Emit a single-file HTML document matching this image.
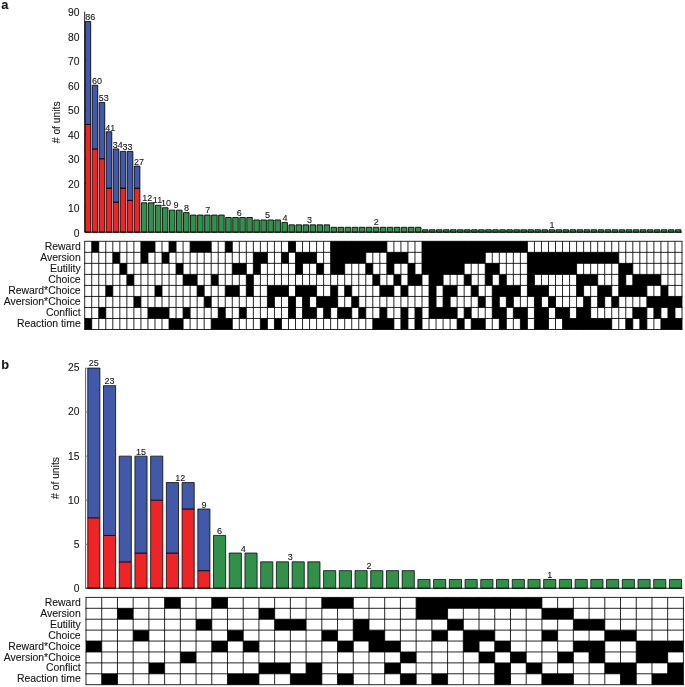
<!DOCTYPE html>
<html><head><meta charset="utf-8"><title>figure</title>
<style>html,body{margin:0;padding:0;background:#fff}svg{display:block}text{font-family:'Liberation Sans', Arial, sans-serif;fill:#161616;stroke:#161616;stroke-width:0.1px}</style>
</head><body>
<svg width="685" height="687" viewBox="0 0 685 687">
<rect width="685" height="687" fill="#fff"/>
<path d="M85.15 232.2V124.44H90.7V232.2ZM92.18 232.2V148.93H97.73V232.2ZM99.2 232.2V158.73H104.75V232.2ZM106.23 232.2V188.12H111.78V232.2ZM113.26 232.2V202.08H118.81V232.2ZM120.29 232.2V188.12H125.84V232.2ZM127.31 232.2V200.36H132.86V232.2ZM134.34 232.2V188.12H139.89V232.2Z" fill="#EE2427" stroke="#000" stroke-width="0.85"/>
<path d="M85.15 124.44V21.59H90.7V124.44ZM92.18 148.93V85.26H97.73V148.93ZM99.2 158.73V102.4H104.75V158.73ZM106.23 188.12V131.79H111.78V188.12ZM113.26 202.08V148.93H118.81V202.08ZM120.29 188.12V151.38H125.84V188.12ZM127.31 200.36V151.38H132.86V200.36ZM134.34 188.12V166.08H139.89V188.12Z" fill="#4259A9" stroke="#000" stroke-width="0.85"/>
<path d="M141.37 232.2V202.81H146.92V232.2ZM148.39 232.2V202.81H153.94V232.2ZM155.42 232.2V205.26H160.97V232.2ZM162.45 232.2V207.71H168V232.2ZM169.47 232.2V210.16H175.02V232.2ZM176.5 232.2V210.16H182.05V232.2ZM183.53 232.2V212.61H189.08V232.2ZM190.56 232.2V215.06H196.11V232.2ZM197.58 232.2V215.06H203.13V232.2ZM204.61 232.2V215.06H210.16V232.2ZM211.64 232.2V215.06H217.19V232.2ZM218.66 232.2V215.06H224.21V232.2ZM225.69 232.2V217.51H231.24V232.2ZM232.72 232.2V217.51H238.27V232.2ZM239.75 232.2V217.51H245.3V232.2ZM246.77 232.2V217.51H252.32V232.2ZM253.8 232.2V219.95H259.35V232.2ZM260.83 232.2V219.95H266.38V232.2ZM267.85 232.2V219.95H273.4V232.2ZM274.88 232.2V219.95H280.43V232.2ZM281.91 232.2V222.4H287.46V232.2ZM288.93 232.2V224.85H294.48V232.2ZM295.96 232.2V224.85H301.51V232.2ZM302.99 232.2V224.85H308.54V232.2ZM310.02 232.2V224.85H315.57V232.2ZM317.04 232.2V224.85H322.59V232.2ZM324.07 232.2V224.85H329.62V232.2ZM331.1 232.2V227.3H336.65V232.2ZM338.12 232.2V227.3H343.67V232.2ZM345.15 232.2V227.3H350.7V232.2ZM352.18 232.2V227.3H357.73V232.2ZM359.21 232.2V227.3H364.76V232.2ZM366.23 232.2V227.3H371.78V232.2ZM373.26 232.2V227.3H378.81V232.2ZM380.29 232.2V227.3H385.84V232.2ZM387.31 232.2V227.3H392.86V232.2ZM394.34 232.2V227.3H399.89V232.2ZM401.37 232.2V227.3H406.92V232.2ZM408.39 232.2V227.3H413.94V232.2ZM415.42 232.2V227.3H420.97V232.2ZM422.45 232.2V229.75H428V232.2ZM429.48 232.2V229.75H435.03V232.2ZM436.5 232.2V229.75H442.05V232.2ZM443.53 232.2V229.75H449.08V232.2ZM450.56 232.2V229.75H456.11V232.2ZM457.58 232.2V229.75H463.13V232.2ZM464.61 232.2V229.75H470.16V232.2ZM471.64 232.2V229.75H477.19V232.2ZM478.67 232.2V229.75H484.22V232.2ZM485.69 232.2V229.75H491.24V232.2ZM492.72 232.2V229.75H498.27V232.2ZM499.75 232.2V229.75H505.3V232.2ZM506.77 232.2V229.75H512.32V232.2ZM513.8 232.2V229.75H519.35V232.2ZM520.83 232.2V229.75H526.38V232.2ZM527.85 232.2V229.75H533.4V232.2ZM534.88 232.2V229.75H540.43V232.2ZM541.91 232.2V229.75H547.46V232.2ZM548.94 232.2V229.75H554.49V232.2ZM555.96 232.2V229.75H561.51V232.2ZM562.99 232.2V229.75H568.54V232.2ZM570.02 232.2V229.75H575.57V232.2ZM577.04 232.2V229.75H582.59V232.2ZM584.07 232.2V229.75H589.62V232.2ZM591.1 232.2V229.75H596.65V232.2ZM598.13 232.2V229.75H603.68V232.2ZM605.15 232.2V229.75H610.7V232.2ZM612.18 232.2V229.75H617.73V232.2ZM619.21 232.2V229.75H624.76V232.2ZM626.23 232.2V229.75H631.78V232.2ZM633.26 232.2V229.75H638.81V232.2ZM640.29 232.2V229.75H645.84V232.2ZM647.31 232.2V229.75H652.86V232.2ZM654.34 232.2V229.75H659.89V232.2ZM661.37 232.2V229.75H666.92V232.2ZM668.4 232.2V229.75H673.95V232.2ZM675.42 232.2V229.75H680.97V232.2Z" fill="#33904A" stroke="#000" stroke-width="0.85"/>
<path d="M84.7 11.6V232.2H682" stroke="#000" stroke-width="0.9" fill="none"/>
<path d="M84.7 232.2h1.2" stroke="#000" stroke-width="0.5"/>
<text x="79.4" y="236.9" font-size="10.3" text-anchor="end">0</text>
<path d="M84.7 207.71h1.2" stroke="#000" stroke-width="0.5"/>
<text x="79.4" y="212.38" font-size="10.3" text-anchor="end">10</text>
<path d="M84.7 183.22h1.2" stroke="#000" stroke-width="0.5"/>
<text x="79.4" y="187.86" font-size="10.3" text-anchor="end">20</text>
<path d="M84.7 158.73h1.2" stroke="#000" stroke-width="0.5"/>
<text x="79.4" y="163.33" font-size="10.3" text-anchor="end">30</text>
<path d="M84.7 134.24h1.2" stroke="#000" stroke-width="0.5"/>
<text x="79.4" y="138.81" font-size="10.3" text-anchor="end">40</text>
<path d="M84.7 109.75h1.2" stroke="#000" stroke-width="0.5"/>
<text x="79.4" y="114.29" font-size="10.3" text-anchor="end">50</text>
<path d="M84.7 85.26h1.2" stroke="#000" stroke-width="0.5"/>
<text x="79.4" y="89.77" font-size="10.3" text-anchor="end">60</text>
<path d="M84.7 60.77h1.2" stroke="#000" stroke-width="0.5"/>
<text x="79.4" y="65.24" font-size="10.3" text-anchor="end">70</text>
<path d="M84.7 36.28h1.2" stroke="#000" stroke-width="0.5"/>
<text x="79.4" y="40.72" font-size="10.3" text-anchor="end">80</text>
<text x="79.4" y="16.2" font-size="10.3" text-anchor="end">90</text>
<text transform="translate(59.9,122.3) rotate(-90)" font-size="10.3" text-anchor="middle"># of units</text>
<text x="90.21" y="20.39" font-size="9" text-anchor="middle">86</text>
<text x="96.94" y="84.06" font-size="9" text-anchor="middle">60</text>
<text x="103.87" y="101.2" font-size="9" text-anchor="middle">53</text>
<text x="110.29" y="130.59" font-size="9" text-anchor="middle">41</text>
<text x="117.82" y="147.73" font-size="9" text-anchor="middle">34</text>
<text x="127.56" y="150.18" font-size="9" text-anchor="middle">33</text>
<text x="138.9" y="164.88" font-size="9" text-anchor="middle">27</text>
<text x="147.34" y="200.91" font-size="9" text-anchor="middle">12</text>
<text x="157.48" y="203.36" font-size="9" text-anchor="middle">11</text>
<text x="166.11" y="205.81" font-size="9" text-anchor="middle">10</text>
<text x="176.05" y="208.26" font-size="9" text-anchor="middle">9</text>
<text x="186.59" y="210.71" font-size="9" text-anchor="middle">8</text>
<text x="207.67" y="213.16" font-size="9" text-anchor="middle">7</text>
<text x="239.3" y="215.61" font-size="9" text-anchor="middle">6</text>
<text x="267.4" y="218.05" font-size="9" text-anchor="middle">5</text>
<text x="284.97" y="220.5" font-size="9" text-anchor="middle">4</text>
<text x="309.57" y="222.95" font-size="9" text-anchor="middle">3</text>
<text x="376.32" y="225.4" font-size="9" text-anchor="middle">2</text>
<text x="552" y="227.85" font-size="9" text-anchor="middle">1</text>
<path d="M91.73 241.3H98.75V252.33H91.73ZM140.92 241.3H154.97V252.33H140.92ZM169.02 241.3H176.05V252.33H169.02ZM190.11 241.3H211.19V252.33H190.11ZM225.24 241.3H232.27V252.33H225.24ZM288.48 241.3H295.51V252.33H288.48ZM330.65 241.3H386.86V252.33H330.65ZM422 241.3H527.4V252.33H422ZM112.81 252.33H119.84V263.35H112.81ZM140.92 252.33H147.94V263.35H140.92ZM162 252.33H169.02V263.35H162ZM253.35 252.33H267.4V263.35H253.35ZM281.46 252.33H288.48V263.35H281.46ZM295.51 252.33H316.59V263.35H295.51ZM330.65 252.33H365.78V263.35H330.65ZM386.86 252.33H407.94V263.35H386.86ZM422 252.33H485.24V263.35H422ZM527.4 252.33H618.76V263.35H527.4ZM119.84 263.35H126.86V274.38H119.84ZM176.05 263.35H183.08V274.38H176.05ZM232.27 263.35H246.32V274.38H232.27ZM253.35 263.35H260.38V274.38H253.35ZM295.51 263.35H302.54V274.38H295.51ZM316.59 263.35H323.62V274.38H316.59ZM330.65 263.35H344.7V274.38H330.65ZM365.78 263.35H372.81V274.38H365.78ZM386.86 263.35H393.89V274.38H386.86ZM407.94 263.35H414.97V274.38H407.94ZM422 263.35H464.16V274.38H422ZM485.24 263.35H499.3V274.38H485.24ZM527.4 263.35H576.59V274.38H527.4ZM618.76 263.35H632.81V274.38H618.76ZM126.86 274.38H133.89V285.4H126.86ZM183.08 274.38H197.13V285.4H183.08ZM211.19 274.38H218.21V285.4H211.19ZM246.32 274.38H253.35V285.4H246.32ZM372.81 274.38H379.84V285.4H372.81ZM393.89 274.38H400.92V285.4H393.89ZM407.94 274.38H422V285.4H407.94ZM429.03 274.38H443.08V285.4H429.03ZM464.16 274.38H471.19V285.4H464.16ZM485.24 274.38H492.27V285.4H485.24ZM499.3 274.38H506.32V285.4H499.3ZM527.4 274.38H534.43V285.4H527.4ZM576.59 274.38H597.68V285.4H576.59ZM618.76 274.38H625.78V285.4H618.76ZM632.81 274.38H660.92V285.4H632.81ZM105.78 285.4H112.81V296.43H105.78ZM154.97 285.4H162V296.43H154.97ZM197.13 285.4H204.16V296.43H197.13ZM225.24 285.4H239.3V296.43H225.24ZM246.32 285.4H253.35V296.43H246.32ZM267.4 285.4H288.48V296.43H267.4ZM295.51 285.4H316.59V296.43H295.51ZM330.65 285.4H337.67V296.43H330.65ZM344.7 285.4H351.73V296.43H344.7ZM379.84 285.4H393.89V296.43H379.84ZM400.92 285.4H407.94V296.43H400.92ZM429.03 285.4H436.05V296.43H429.03ZM443.08 285.4H457.13V296.43H443.08ZM471.19 285.4H478.22V296.43H471.19ZM492.27 285.4H520.38V296.43H492.27ZM527.4 285.4H548.49V296.43H527.4ZM576.59 285.4H583.62V296.43H576.59ZM597.68 285.4H611.73V296.43H597.68ZM618.76 285.4H646.86V296.43H618.76ZM660.92 285.4H667.95V296.43H660.92ZM133.89 296.43H140.92V307.45H133.89ZM204.16 296.43H211.19V307.45H204.16ZM267.4 296.43H274.43V307.45H267.4ZM288.48 296.43H295.51V307.45H288.48ZM302.54 296.43H309.57V307.45H302.54ZM316.59 296.43H337.67V307.45H316.59ZM351.73 296.43H358.76V307.45H351.73ZM429.03 296.43H436.05V307.45H429.03ZM443.08 296.43H450.11V307.45H443.08ZM478.22 296.43H485.24V307.45H478.22ZM492.27 296.43H499.3V307.45H492.27ZM506.32 296.43H513.35V307.45H506.32ZM534.43 296.43H541.46V307.45H534.43ZM548.49 296.43H555.51V307.45H548.49ZM583.62 296.43H590.65V307.45H583.62ZM597.68 296.43H604.7V307.45H597.68ZM611.73 296.43H618.76V307.45H611.73ZM646.86 296.43H682V307.45H646.86ZM98.75 307.45H105.78V318.48H98.75ZM147.94 307.45H169.02V318.48H147.94ZM183.08 307.45H190.11V318.48H183.08ZM218.21 307.45H225.24V318.48H218.21ZM239.3 307.45H246.32V318.48H239.3ZM288.48 307.45H295.51V318.48H288.48ZM302.54 307.45H316.59V318.48H302.54ZM323.62 307.45H330.65V318.48H323.62ZM337.67 307.45H351.73V318.48H337.67ZM358.76 307.45H365.78V318.48H358.76ZM379.84 307.45H386.86V318.48H379.84ZM400.92 307.45H407.94V318.48H400.92ZM414.97 307.45H422V318.48H414.97ZM429.03 307.45H457.13V318.48H429.03ZM464.16 307.45H471.19V318.48H464.16ZM492.27 307.45H506.32V318.48H492.27ZM513.35 307.45H527.4V318.48H513.35ZM534.43 307.45H548.49V318.48H534.43ZM555.51 307.45H569.57V318.48H555.51ZM576.59 307.45H590.65V318.48H576.59ZM632.81 307.45H646.86V318.48H632.81ZM653.89 307.45H660.92V318.48H653.89ZM667.95 307.45H674.97V318.48H667.95ZM84.7 318.48H91.73V329.5H84.7ZM169.02 318.48H183.08V329.5H169.02ZM211.19 318.48H232.27V329.5H211.19ZM260.38 318.48H267.4V329.5H260.38ZM274.43 318.48H281.46V329.5H274.43ZM372.81 318.48H393.89V329.5H372.81ZM400.92 318.48H407.94V329.5H400.92ZM414.97 318.48H422V329.5H414.97ZM457.13 318.48H464.16V329.5H457.13ZM471.19 318.48H485.24V329.5H471.19ZM499.3 318.48H506.32V329.5H499.3ZM520.38 318.48H527.4V329.5H520.38ZM534.43 318.48H548.49V329.5H534.43ZM562.54 318.48H611.73V329.5H562.54ZM625.78 318.48H632.81V329.5H625.78ZM639.84 318.48H646.86V329.5H639.84ZM660.92 318.48H682V329.5H660.92Z" fill="#000"/>
<path d="M84.7 241.3V329.5M91.73 241.3V329.5M98.75 241.3V329.5M105.78 241.3V329.5M112.81 241.3V329.5M119.84 241.3V329.5M126.86 241.3V329.5M133.89 241.3V329.5M140.92 241.3V329.5M147.94 241.3V329.5M154.97 241.3V329.5M162 241.3V329.5M169.02 241.3V329.5M176.05 241.3V329.5M183.08 241.3V329.5M190.11 241.3V329.5M197.13 241.3V329.5M204.16 241.3V329.5M211.19 241.3V329.5M218.21 241.3V329.5M225.24 241.3V329.5M232.27 241.3V329.5M239.3 241.3V329.5M246.32 241.3V329.5M253.35 241.3V329.5M260.38 241.3V329.5M267.4 241.3V329.5M274.43 241.3V329.5M281.46 241.3V329.5M288.48 241.3V329.5M295.51 241.3V329.5M302.54 241.3V329.5M309.57 241.3V329.5M316.59 241.3V329.5M323.62 241.3V329.5M330.65 241.3V329.5M337.67 241.3V329.5M344.7 241.3V329.5M351.73 241.3V329.5M358.76 241.3V329.5M365.78 241.3V329.5M372.81 241.3V329.5M379.84 241.3V329.5M386.86 241.3V329.5M393.89 241.3V329.5M400.92 241.3V329.5M407.94 241.3V329.5M414.97 241.3V329.5M422 241.3V329.5M429.03 241.3V329.5M436.05 241.3V329.5M443.08 241.3V329.5M450.11 241.3V329.5M457.13 241.3V329.5M464.16 241.3V329.5M471.19 241.3V329.5M478.22 241.3V329.5M485.24 241.3V329.5M492.27 241.3V329.5M499.3 241.3V329.5M506.32 241.3V329.5M513.35 241.3V329.5M520.38 241.3V329.5M527.4 241.3V329.5M534.43 241.3V329.5M541.46 241.3V329.5M548.49 241.3V329.5M555.51 241.3V329.5M562.54 241.3V329.5M569.57 241.3V329.5M576.59 241.3V329.5M583.62 241.3V329.5M590.65 241.3V329.5M597.68 241.3V329.5M604.7 241.3V329.5M611.73 241.3V329.5M618.76 241.3V329.5M625.78 241.3V329.5M632.81 241.3V329.5M639.84 241.3V329.5M646.86 241.3V329.5M653.89 241.3V329.5M660.92 241.3V329.5M667.95 241.3V329.5M674.97 241.3V329.5M682 241.3V329.5" stroke="#000" stroke-width="0.85" fill="none"/>
<path d="M84.7 241.3H682M84.7 252.33H682M84.7 263.35H682M84.7 274.38H682M84.7 285.4H682M84.7 296.43H682M84.7 307.45H682M84.7 318.48H682M84.7 329.5H682" stroke="#000" stroke-width="0.85" fill="none" stroke-linecap="square"/>
<text x="80.7" y="250.41" font-size="10.45" text-anchor="end">Reward</text>
<text x="80.7" y="261.34" font-size="10.45" text-anchor="end">Aversion</text>
<text x="80.7" y="272.26" font-size="10.45" text-anchor="end">Eutility</text>
<text x="80.7" y="283.19" font-size="10.45" text-anchor="end">Choice</text>
<text x="80.7" y="294.11" font-size="10.45" text-anchor="end">Reward*Choice</text>
<text x="80.7" y="305.04" font-size="10.45" text-anchor="end">Aversion*Choice</text>
<text x="80.7" y="315.96" font-size="10.45" text-anchor="end">Conflict</text>
<text x="80.7" y="326.89" font-size="10.45" text-anchor="end">Reaction time</text>
<text x="1.3" y="9.2" font-size="12.8" text-anchor="start" font-weight="bold">a</text>
<path d="M87.75 588.25V517.79H99.9V588.25ZM103.47 588.25V535.4H115.62V588.25ZM119.19 588.25V561.83H131.34V588.25ZM134.91 588.25V553.02H147.06V588.25ZM150.63 588.25V500.17H162.78V588.25ZM166.36 588.25V553.02H178.51V588.25ZM182.08 588.25V508.98H194.23V588.25ZM197.8 588.25V570.63H209.95V588.25Z" fill="#EE2427" stroke="#000" stroke-width="0.75"/>
<path d="M87.75 517.79V368.05H99.9V517.79ZM103.47 535.4V385.67H115.62V535.4ZM119.19 561.83V456.13H131.34V561.83ZM134.91 553.02V456.13H147.06V553.02ZM150.63 500.17V456.13H162.78V500.17ZM166.36 553.02V482.55H178.51V553.02ZM182.08 508.98V482.55H194.23V508.98ZM197.8 570.63V508.98H209.95V570.63Z" fill="#4259A9" stroke="#000" stroke-width="0.75"/>
<path d="M213.52 588.25V535.4H225.67V588.25ZM229.24 588.25V553.02H241.39V588.25ZM244.96 588.25V553.02H257.11V588.25ZM260.68 588.25V561.83H272.83V588.25ZM276.4 588.25V561.83H288.55V588.25ZM292.12 588.25V561.83H304.27V588.25ZM307.84 588.25V561.83H319.99V588.25ZM323.57 588.25V570.63H335.72V588.25ZM339.29 588.25V570.63H351.44V588.25ZM355.01 588.25V570.63H367.16V588.25ZM370.73 588.25V570.63H382.88V588.25ZM386.45 588.25V570.63H398.6V588.25ZM402.17 588.25V570.63H414.32V588.25ZM417.89 588.25V579.44H430.04V588.25ZM433.61 588.25V579.44H445.76V588.25ZM449.33 588.25V579.44H461.48V588.25ZM465.06 588.25V579.44H477.21V588.25ZM480.78 588.25V579.44H492.93V588.25ZM496.5 588.25V579.44H508.65V588.25ZM512.22 588.25V579.44H524.37V588.25ZM527.94 588.25V579.44H540.09V588.25ZM543.66 588.25V579.44H555.81V588.25ZM559.38 588.25V579.44H571.53V588.25ZM575.1 588.25V579.44H587.25V588.25ZM590.82 588.25V579.44H602.97V588.25ZM606.54 588.25V579.44H618.69V588.25ZM622.27 588.25V579.44H634.42V588.25ZM637.99 588.25V579.44H650.14V588.25ZM653.71 588.25V579.44H665.86V588.25ZM669.43 588.25V579.44H681.58V588.25Z" fill="#33904A" stroke="#000" stroke-width="0.75"/>
<path d="M85.6 367.9V588.25" stroke="#3a3a3a" stroke-width="0.8" fill="none"/>
<path d="M85.6 588.25H682.4" stroke="#000" stroke-width="0.9" fill="none"/>
<path d="M86 588.25h1.2" stroke="#000" stroke-width="0.5"/>
<text x="79.4" y="591.65" font-size="10.3" text-anchor="end">0</text>
<path d="M86 544.21h1.2" stroke="#000" stroke-width="0.5"/>
<text x="79.4" y="547.61" font-size="10.3" text-anchor="end">5</text>
<path d="M86 500.17h1.2" stroke="#000" stroke-width="0.5"/>
<text x="79.4" y="503.57" font-size="10.3" text-anchor="end">10</text>
<path d="M86 456.13h1.2" stroke="#000" stroke-width="0.5"/>
<text x="79.4" y="459.53" font-size="10.3" text-anchor="end">15</text>
<path d="M86 412.09h1.2" stroke="#000" stroke-width="0.5"/>
<text x="79.4" y="415.49" font-size="10.3" text-anchor="end">20</text>
<path d="M86 368.05h1.2" stroke="#000" stroke-width="0.5"/>
<text x="79.4" y="371.45" font-size="10.3" text-anchor="end">25</text>
<text transform="translate(59.2,478) rotate(-90)" font-size="10.3" text-anchor="middle"># of units</text>
<text x="93.86" y="365.95" font-size="9" text-anchor="middle">25</text>
<text x="109.58" y="384.27" font-size="9" text-anchor="middle">23</text>
<text x="141.02" y="454.73" font-size="9" text-anchor="middle">15</text>
<text x="180.33" y="481.15" font-size="9" text-anchor="middle">12</text>
<text x="203.91" y="507.58" font-size="9" text-anchor="middle">9</text>
<text x="219.63" y="534" font-size="9" text-anchor="middle">6</text>
<text x="243.21" y="551.62" font-size="9" text-anchor="middle">4</text>
<text x="290.37" y="560.43" font-size="9" text-anchor="middle">3</text>
<text x="368.98" y="569.23" font-size="9" text-anchor="middle">2</text>
<text x="549.77" y="578.04" font-size="9" text-anchor="middle">1</text>
<path d="M164.61 597.4H180.33V608.31H164.61ZM211.77 597.4H227.49V608.31H211.77ZM321.82 597.4H353.26V608.31H321.82ZM416.14 597.4H541.91V608.31H416.14ZM117.44 608.31H133.16V619.23H117.44ZM258.93 608.31H274.65V619.23H258.93ZM416.14 608.31H447.58V619.23H416.14ZM541.91 608.31H573.35V619.23H541.91ZM196.05 619.23H211.77V630.14H196.05ZM274.65 619.23H306.09V630.14H274.65ZM353.26 619.23H368.98V630.14H353.26ZM447.58 619.23H463.31V630.14H447.58ZM573.35 619.23H604.79V630.14H573.35ZM133.16 630.14H148.88V641.05H133.16ZM227.49 630.14H243.21V641.05H227.49ZM321.82 630.14H337.54V641.05H321.82ZM353.26 630.14H384.7V641.05H353.26ZM431.86 630.14H447.58V641.05H431.86ZM463.31 630.14H494.75V641.05H463.31ZM541.91 630.14H557.63V641.05H541.91ZM604.79 630.14H636.24V641.05H604.79ZM86 641.05H101.72V651.96H86ZM211.77 641.05H227.49V651.96H211.77ZM243.21 641.05H258.93V651.96H243.21ZM337.54 641.05H353.26V651.96H337.54ZM368.98 641.05H400.42V651.96H368.98ZM463.31 641.05H479.03V651.96H463.31ZM494.75 641.05H510.47V651.96H494.75ZM573.35 641.05H604.79V651.96H573.35ZM636.24 641.05H683.4V651.96H636.24ZM180.33 651.96H196.05V662.88H180.33ZM400.42 651.96H416.14V662.88H400.42ZM479.03 651.96H494.75V662.88H479.03ZM510.47 651.96H526.19V662.88H510.47ZM557.63 651.96H573.35V662.88H557.63ZM589.07 651.96H604.79V662.88H589.07ZM636.24 651.96H667.68V662.88H636.24ZM148.88 662.88H164.61V673.79H148.88ZM258.93 662.88H290.37V673.79H258.93ZM306.09 662.88H321.82V673.79H306.09ZM384.7 662.88H400.42V673.79H384.7ZM494.75 662.88H510.47V673.79H494.75ZM526.19 662.88H541.91V673.79H526.19ZM604.79 662.88H636.24V673.79H604.79ZM667.68 662.88H683.4V673.79H667.68ZM101.72 673.79H117.44V684.7H101.72ZM227.49 673.79H258.93V684.7H227.49ZM290.37 673.79H321.82V684.7H290.37ZM337.54 673.79H353.26V684.7H337.54ZM400.42 673.79H416.14V684.7H400.42ZM431.86 673.79H447.58V684.7H431.86ZM494.75 673.79H510.47V684.7H494.75ZM541.91 673.79H573.35V684.7H541.91ZM620.52 673.79H636.24V684.7H620.52ZM651.96 673.79H683.4V684.7H651.96Z" fill="#000"/>
<path d="M86 597.4V684.7M101.72 597.4V684.7M117.44 597.4V684.7M133.16 597.4V684.7M148.88 597.4V684.7M164.61 597.4V684.7M180.33 597.4V684.7M196.05 597.4V684.7M211.77 597.4V684.7M227.49 597.4V684.7M243.21 597.4V684.7M258.93 597.4V684.7M274.65 597.4V684.7M290.37 597.4V684.7M306.09 597.4V684.7M321.82 597.4V684.7M337.54 597.4V684.7M353.26 597.4V684.7M368.98 597.4V684.7M384.7 597.4V684.7M400.42 597.4V684.7M416.14 597.4V684.7M431.86 597.4V684.7M447.58 597.4V684.7M463.31 597.4V684.7M479.03 597.4V684.7M494.75 597.4V684.7M510.47 597.4V684.7M526.19 597.4V684.7M541.91 597.4V684.7M557.63 597.4V684.7M573.35 597.4V684.7M589.07 597.4V684.7M604.79 597.4V684.7M620.52 597.4V684.7M636.24 597.4V684.7M651.96 597.4V684.7M667.68 597.4V684.7M683.4 597.4V684.7" stroke="#000" stroke-width="0.85" fill="none"/>
<path d="M86 597.4H683.4M86 608.31H683.4M86 619.23H683.4M86 630.14H683.4M86 641.05H683.4M86 651.96H683.4M86 662.88H683.4M86 673.79H683.4M86 684.7H683.4" stroke="#000" stroke-width="0.85" fill="none" stroke-linecap="square"/>
<text x="80.7" y="606.01" font-size="10.45" text-anchor="end">Reward</text>
<text x="80.7" y="616.92" font-size="10.45" text-anchor="end">Aversion</text>
<text x="80.7" y="627.83" font-size="10.45" text-anchor="end">Eutility</text>
<text x="80.7" y="638.74" font-size="10.45" text-anchor="end">Choice</text>
<text x="80.7" y="649.66" font-size="10.45" text-anchor="end">Reward*Choice</text>
<text x="80.7" y="660.57" font-size="10.45" text-anchor="end">Aversion*Choice</text>
<text x="80.7" y="671.48" font-size="10.45" text-anchor="end">Conflict</text>
<text x="80.7" y="682.39" font-size="10.45" text-anchor="end">Reaction time</text>
<text x="1.3" y="368.8" font-size="12.8" text-anchor="start" font-weight="bold">b</text>
</svg>
</body></html>
